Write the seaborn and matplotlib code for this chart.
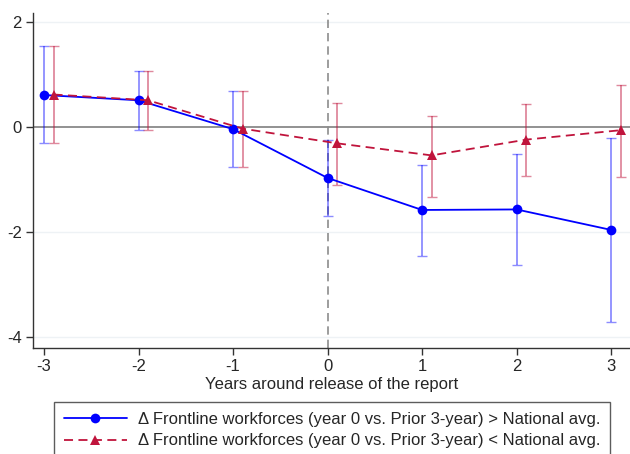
import matplotlib
matplotlib.use("Agg")
import matplotlib.pyplot as plt
import numpy as np
import pandas as pd
import seaborn as sns

years = [-3, -2, -1, 0, 1, 2, 3]

# above national avg (blue)
above_est = [0.61, 0.51, -0.04, -0.97, -1.58, -1.57, -1.96]
above_lo = [-0.30, -0.06, -0.76, -1.70, -2.45, -2.63, -3.71]
above_hi = [1.54, 1.07, 0.69, -0.25, -0.72, -0.51, -0.21]

# below national avg (red)
below_est = [0.62, 0.51, -0.03, -0.31, -0.54, -0.24, -0.06]
below_lo = [-0.30, -0.05, -0.76, -1.11, -1.33, -0.93, -0.96]
below_hi = [1.54, 1.07, 0.69, 0.45, 0.21, 0.44, 0.80]

labels = ["Δ Frontline workforces (year 0 vs. Prior 3-year) > National avg.",
          "Δ Frontline workforces (year 0 vs. Prior 3-year) < National avg."]
colors = ["#0000ff", "#c0143c"]
offset = 0.1

sns.set_style("white")
plt.rcParams["font.family"] = ["Liberation Sans", "DejaVu Sans"]
plt.rcParams["axes.unicode_minus"] = False

df = pd.concat([
    pd.DataFrame({"x": years, "y": above_est, "group": labels[0]}),
    pd.DataFrame({"x": np.array(years) + offset, "y": below_est, "group": labels[1]}),
])

fig = plt.figure(figsize=(6.3, 4.54), dpi=100)
ax = fig.add_axes([0.052, 0.2335, 0.948, 0.7375])

for y in [2, -2, -4]:
    ax.axhline(y, color="#eef2f5", lw=1, zorder=0)
ax.axhline(0, color="#7f7f7f", lw=1.2, zorder=1)
ax.axvline(0, color="#8c8c8c", lw=1.2, ls=(0, (5, 3)), zorder=1)

# confidence intervals
ax.errorbar(years, above_est,
            yerr=[np.array(above_est) - above_lo, np.array(above_hi) - above_est],
            fmt="none", ecolor=colors[0], alpha=0.45, capsize=3.3, elinewidth=1.3, zorder=2)
ax.errorbar(np.array(years) + offset, below_est,
            yerr=[np.array(below_est) - below_lo, np.array(below_hi) - below_est],
            fmt="none", ecolor=colors[1], alpha=0.5, capsize=3.3, elinewidth=1.3, zorder=2)

sns.lineplot(data=df, x="x", y="y", hue="group", style="group",
             palette=colors, markers=["o", "^"], dashes=[(None, None), (5, 3)],
             markersize=7, markeredgewidth=0, lw=1.3, ax=ax, zorder=3)

ax.set_xlim(-3.12, 3.2)
ax.set_ylim(-4.21, 2.17)
ax.set_xticks(years)
ax.set_yticks([-4, -2, 0, 2])
ax.set_xlabel("Years around release of the report", fontsize=12, labelpad=2)
ax.set_ylabel("")
ax.tick_params(axis="both", labelsize=12, length=5, width=1, color="#333333",
               bottom=True, left=True, pad=3)
for s in ["top", "right"]:
    ax.spines[s].set_visible(False)
for s in ["left", "bottom"]:
    ax.spines[s].set_color("#333333")
    ax.spines[s].set_linewidth(1)

handles, lbls = ax.get_legend_handles_labels()
leg = ax.legend(handles, lbls, loc="upper center", bbox_to_anchor=(0.527, 1 - 402 / 454),
                bbox_transform=fig.transFigure, ncol=1, fontsize=12, frameon=True,
                fancybox=False, handlelength=3.8, handletextpad=0.65,
                borderpad=0.6, labelspacing=0.38, borderaxespad=0, edgecolor="#333333")
leg.get_frame().set_linewidth(1)

fig.savefig("out.png", dpi=100)
